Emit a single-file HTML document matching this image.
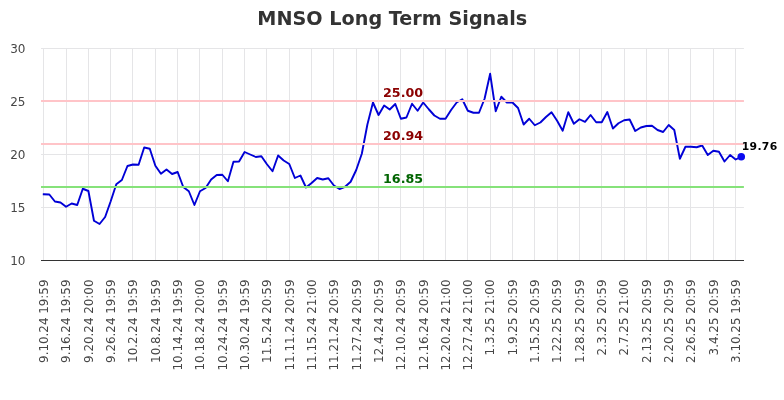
<!DOCTYPE html>
<html lang="en"><head><meta charset="utf-8"><title>MNSO Long Term Signals</title>
<style>html,body{margin:0;padding:0;background:#fff;}body{width:784px;height:400px;overflow:hidden;}svg{display:block;will-change:transform;opacity:0.999;}text{font-family:"DejaVu Sans","Liberation Sans",sans-serif;}</style></head><body>
<svg width="784" height="400" viewBox="0 0 784 400">
<rect width="784" height="400" fill="#ffffff"/>
<path d="M43.5 48V260.5M66.5 48V260.5M88.5 48V260.5M110.5 48V260.5M132.5 48V260.5M155.5 48V260.5M177.5 48V260.5M199.5 48V260.5M222.5 48V260.5M244.5 48V260.5M266.5 48V260.5M289.5 48V260.5M311.5 48V260.5M333.5 48V260.5M356.5 48V260.5M378.5 48V260.5M400.5 48V260.5M423.5 48V260.5M445.5 48V260.5M467.5 48V260.5M490.5 48V260.5M512.5 48V260.5M534.5 48V260.5M557.5 48V260.5M579.5 48V260.5M601.5 48V260.5M624.5 48V260.5M646.5 48V260.5M668.5 48V260.5M690.5 48V260.5M713.5 48V260.5M735.5 48V260.5M41.00 207.5H743.90M41.00 154.5H743.90M41.00 101.5H743.90M41.00 48.5H743.90" stroke="#e5e5e7" stroke-width="1.0" fill="none"/>
<polyline points="43.75,194.25 49.33,194.50 54.91,201.50 60.49,202.50 66.07,206.75 71.65,203.50 77.23,205.00 82.81,188.75 88.39,191.00 93.97,220.75 99.55,224.00 105.13,217.00 110.71,201.25 116.29,184.25 121.87,180.00 127.45,166.00 133.03,164.50 138.61,164.75 144.19,147.50 149.77,148.75 155.35,165.75 160.93,173.75 166.51,169.50 172.09,174.00 177.67,172.00 183.25,187.00 188.83,191.25 194.41,205.00 199.99,191.25 205.57,188.00 211.15,179.50 216.73,175.00 222.31,174.75 227.89,181.25 233.47,161.75 239.05,161.50 244.63,152.00 250.21,154.50 255.79,157.00 261.37,156.25 266.95,164.25 272.53,171.25 278.11,155.50 283.69,160.50 289.27,164.00 294.85,178.00 300.43,175.50 306.01,187.50 311.59,183.00 317.17,178.00 322.75,179.50 328.33,178.25 333.91,185.50 339.49,189.00 345.07,186.75 350.65,181.75 356.23,170.00 361.81,153.75 367.39,124.50 372.97,102.50 378.55,115.00 384.13,105.50 389.71,109.50 395.29,104.00 400.87,118.75 406.45,117.50 412.03,103.75 417.61,110.75 423.19,102.50 428.77,109.25 434.35,115.50 439.93,118.75 445.51,118.75 451.09,110.00 456.67,102.50 462.25,99.25 467.83,110.75 473.41,112.75 478.99,112.75 484.57,98.75 490.15,73.80 495.73,111.25 501.31,96.75 506.89,102.50 512.47,102.50 518.05,108.00 523.63,124.50 529.21,118.75 534.79,125.25 540.37,122.50 545.95,117.00 551.53,112.25 557.11,120.75 562.69,130.75 568.27,112.25 573.85,123.75 579.43,119.25 585.01,121.88 590.59,115.00 596.17,122.25 601.75,122.25 607.33,112.00 612.91,128.50 618.49,123.25 624.07,120.25 629.65,119.50 635.23,131.00 640.81,127.50 646.39,126.00 651.97,125.75 657.55,130.00 663.13,132.00 668.71,125.00 674.29,130.00 679.87,158.75 685.45,146.75 691.03,146.75 696.61,147.25 702.19,145.50 707.77,155.00 713.35,150.75 718.93,151.75 724.51,161.50 730.09,155.00 735.67,159.50 741.25,156.80" fill="none" stroke="#0000d6" stroke-width="1.9" stroke-linejoin="round" stroke-linecap="square"/>
<circle cx="741.25" cy="156.80" r="3.8" fill="#0a0af0"/>
<path d="M41.0 101H743.9M41.0 144H743.9" stroke="#ffc4c8" stroke-width="2.0" fill="none"/>
<path d="M41.0 187H743.9" stroke="#86e27a" stroke-width="2.0" fill="none"/>
<path d="M41 260.5H744" stroke="#333333" stroke-width="1.0" fill="none"/>
<text x="392.3" y="25.0" text-anchor="middle" font-size="19.2" font-weight="bold" fill="#333333">MNSO Long Term Signals</text>
<text x="25.5" y="264.67" text-anchor="end" font-size="12.0" fill="#464646">10</text>
<text x="25.5" y="211.70" text-anchor="end" font-size="12.0" fill="#464646">15</text>
<text x="25.5" y="158.72" text-anchor="end" font-size="12.0" fill="#464646">20</text>
<text x="25.5" y="105.75" text-anchor="end" font-size="12.0" fill="#464646">25</text>
<text x="25.5" y="52.77" text-anchor="end" font-size="12.0" fill="#464646">30</text>
<text transform="translate(48.09 279.5) rotate(-90)" text-anchor="end" font-size="11.9" fill="#464646">9.10.24 19:59</text>
<text transform="translate(70.41 279.5) rotate(-90)" text-anchor="end" font-size="11.9" fill="#464646">9.16.24 19:59</text>
<text transform="translate(92.73 279.5) rotate(-90)" text-anchor="end" font-size="11.9" fill="#464646">9.20.24 20:00</text>
<text transform="translate(115.05 279.5) rotate(-90)" text-anchor="end" font-size="11.9" fill="#464646">9.26.24 19:59</text>
<text transform="translate(137.37 279.5) rotate(-90)" text-anchor="end" font-size="11.9" fill="#464646">10.2.24 19:59</text>
<text transform="translate(159.69 279.5) rotate(-90)" text-anchor="end" font-size="11.9" fill="#464646">10.8.24 19:59</text>
<text transform="translate(182.01 279.5) rotate(-90)" text-anchor="end" font-size="11.9" fill="#464646">10.14.24 19:59</text>
<text transform="translate(204.33 279.5) rotate(-90)" text-anchor="end" font-size="11.9" fill="#464646">10.18.24 20:00</text>
<text transform="translate(226.65 279.5) rotate(-90)" text-anchor="end" font-size="11.9" fill="#464646">10.24.24 19:59</text>
<text transform="translate(248.97 279.5) rotate(-90)" text-anchor="end" font-size="11.9" fill="#464646">10.30.24 19:59</text>
<text transform="translate(271.29 279.5) rotate(-90)" text-anchor="end" font-size="11.9" fill="#464646">11.5.24 20:59</text>
<text transform="translate(293.61 279.5) rotate(-90)" text-anchor="end" font-size="11.9" fill="#464646">11.11.24 20:59</text>
<text transform="translate(315.93 279.5) rotate(-90)" text-anchor="end" font-size="11.9" fill="#464646">11.15.24 21:00</text>
<text transform="translate(338.25 279.5) rotate(-90)" text-anchor="end" font-size="11.9" fill="#464646">11.21.24 20:59</text>
<text transform="translate(360.57 279.5) rotate(-90)" text-anchor="end" font-size="11.9" fill="#464646">11.27.24 20:59</text>
<text transform="translate(382.89 279.5) rotate(-90)" text-anchor="end" font-size="11.9" fill="#464646">12.4.24 20:59</text>
<text transform="translate(405.21 279.5) rotate(-90)" text-anchor="end" font-size="11.9" fill="#464646">12.10.24 20:59</text>
<text transform="translate(427.53 279.5) rotate(-90)" text-anchor="end" font-size="11.9" fill="#464646">12.16.24 20:59</text>
<text transform="translate(449.85 279.5) rotate(-90)" text-anchor="end" font-size="11.9" fill="#464646">12.20.24 21:00</text>
<text transform="translate(472.17 279.5) rotate(-90)" text-anchor="end" font-size="11.9" fill="#464646">12.27.24 21:00</text>
<text transform="translate(494.49 279.5) rotate(-90)" text-anchor="end" font-size="11.9" fill="#464646">1.3.25 21:00</text>
<text transform="translate(516.81 279.5) rotate(-90)" text-anchor="end" font-size="11.9" fill="#464646">1.9.25 20:59</text>
<text transform="translate(539.13 279.5) rotate(-90)" text-anchor="end" font-size="11.9" fill="#464646">1.15.25 20:59</text>
<text transform="translate(561.45 279.5) rotate(-90)" text-anchor="end" font-size="11.9" fill="#464646">1.22.25 20:59</text>
<text transform="translate(583.77 279.5) rotate(-90)" text-anchor="end" font-size="11.9" fill="#464646">1.28.25 20:59</text>
<text transform="translate(606.09 279.5) rotate(-90)" text-anchor="end" font-size="11.9" fill="#464646">2.3.25 20:59</text>
<text transform="translate(628.41 279.5) rotate(-90)" text-anchor="end" font-size="11.9" fill="#464646">2.7.25 21:00</text>
<text transform="translate(650.73 279.5) rotate(-90)" text-anchor="end" font-size="11.9" fill="#464646">2.13.25 20:59</text>
<text transform="translate(673.05 279.5) rotate(-90)" text-anchor="end" font-size="11.9" fill="#464646">2.20.25 20:59</text>
<text transform="translate(695.37 279.5) rotate(-90)" text-anchor="end" font-size="11.9" fill="#464646">2.26.25 20:59</text>
<text transform="translate(717.69 279.5) rotate(-90)" text-anchor="end" font-size="11.9" fill="#464646">3.4.25 20:59</text>
<text transform="translate(740.01 279.5) rotate(-90)" text-anchor="end" font-size="11.9" fill="#464646">3.10.25 19:59</text>
<text x="383.0" y="96.97" font-size="12.7" font-weight="bold" fill="#8b0000">25.00</text>
<text x="383.0" y="139.99" font-size="12.7" font-weight="bold" fill="#8b0000">20.94</text>
<text x="383.0" y="183.32" font-size="12.7" font-weight="bold" fill="#006400">16.85</text>
<text x="741.8" y="149.7" letter-spacing="0.3" font-size="10.8" font-weight="bold" fill="#000000">19.76</text>
</svg></body></html>
